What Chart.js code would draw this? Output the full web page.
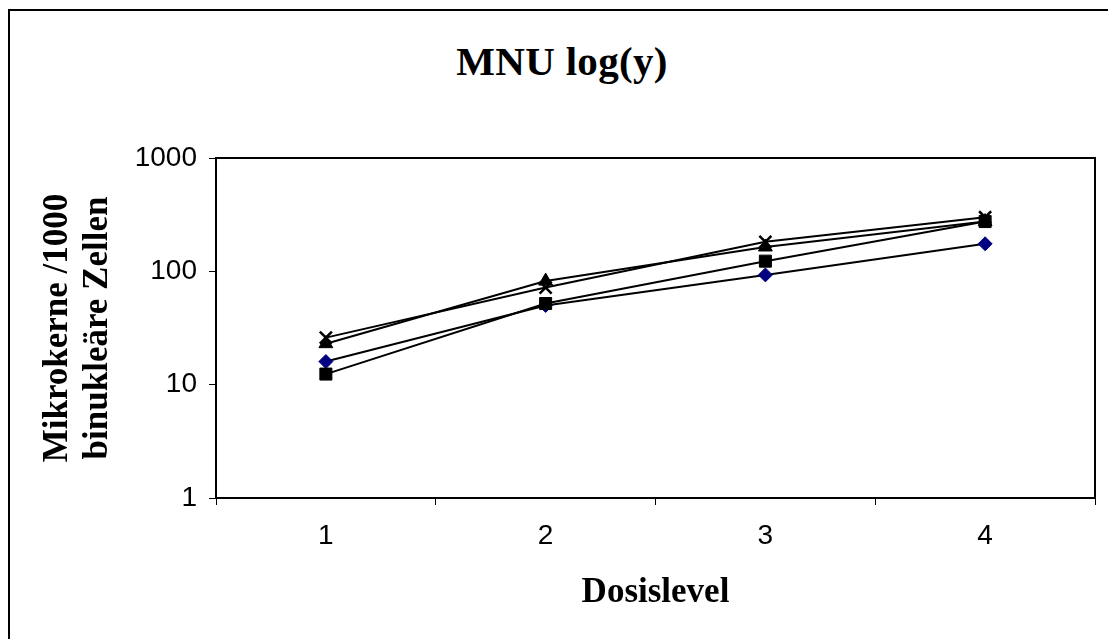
<!DOCTYPE html>
<html>
<head>
<meta charset="utf-8">
<script src="https://cdn.jsdelivr.net/npm/chart.js@4"></script>
<style>
  html, body { margin: 0; padding: 0; background: #fff; overflow: hidden; }
  #frame {
    position: absolute; left: 8px; top: 9px; width: 1200px; height: 700px;
    border-left: 2px solid #000; border-top: 2px solid #000;
  }
  #title {
    position: absolute; left: 0; width: 1124px; top: 37px; text-align: center;
    font: bold 41px "Liberation Serif", "Times New Roman", serif; color: #000;
    letter-spacing: 0.3px;
  }
  #mainChart { position: absolute; left: 0; top: 0; }
</style>
</head>
<body>
<div id="frame"></div>
<div id="title">MNU log(y)</div>
<canvas id="mainChart" width="1108" height="639"></canvas>
<script>
// Data
const doseLevels = ['1', '2', '3', '4'];
const yTicks = [1, 10, 100, 1000];
const seriesDiamond = [16, 50, 93, 175];
const seriesSquare = [12.4, 52, 123, 275];
const seriesTriangle = [23, 82, 164, 275];
const seriesCross = [26, 72, 182, 300];

// Frame round the plot area
const plotFrame = {
    id: 'plotFrame',
    beforeDatasetsDraw(chart) {
        const a = chart.chartArea;
        const ctx = chart.ctx;
        ctx.save();
        ctx.strokeStyle = '#000';
        ctx.lineWidth = 2;
        ctx.strokeRect(a.left, a.top, a.right - a.left, a.bottom - a.top);
        ctx.restore();
    }
};

function makeSet(label, data, style, radius, color, order) {
    return {
        label: label,
        data: data,
        borderColor: '#000',
        borderWidth: 2,
        tension: 0,
        fill: false,
        pointStyle: style,
        pointRadius: radius,
        pointHoverRadius: radius,
        pointBackgroundColor: color,
        pointBorderColor: color,
        pointBorderWidth: style === 'crossRot' ? 2.5 : 1,
        order: order
    };
}

const ctx = document.getElementById('mainChart').getContext('2d');
new Chart(ctx, {
    type: 'line',
    data: {
        labels: doseLevels,
        datasets: [
            makeSet('Reihe 1', seriesDiamond, 'rectRot', 7, '#000080', 4),
            makeSet('Reihe 2', seriesSquare, 'rect', 8.5, '#000', 3),
            makeSet('Reihe 3', seriesTriangle, 'triangle', 8, '#000', 2),
            makeSet('Reihe 4', seriesCross, 'crossRot', 8.5, '#000', 1)
        ]
    },
    options: {
        responsive: false,
        devicePixelRatio: 1,
        animation: false,
        layout: { padding: { left: 0, right: 13, top: 158, bottom: 0 } },
        plugins: {
            legend: { display: false },
            title: { display: false },
            tooltip: { enabled: false }
        },
        scales: {
            x: {
                offset: true,
                grid: { offset: true, drawOnChartArea: false, drawTicks: true, tickLength: 7, color: '#000', lineWidth: 1 },
                border: { display: false },
                ticks: { color: '#000', padding: 14, font: { family: 'Liberation Sans', size: 28 } },
                title: {
                    display: true,
                    text: 'Dosislevel',
                    color: '#000',
                    padding: { top: 0, bottom: 25 },
                    font: { family: 'Liberation Serif', size: 35, weight: 'bold' }
                },
                afterFit(scale) { scale.height = 141; }
            },
            y: {
                type: 'logarithmic',
                min: 1,
                max: 1000,
                grid: { drawOnChartArea: false, drawTicks: true, tickLength: 7, color: '#000', lineWidth: 1 },
                border: { display: false },
                afterBuildTicks(scale) { scale.ticks = yTicks.map(v => ({ value: v })); },
                ticks: {
                    color: '#000',
                    padding: 12,
                    font: { family: 'Liberation Sans', size: 28 },
                    callback: (v) => String(v)
                },
                title: {
                    display: true,
                    text: ['Mikrokerne /1000', 'binukleäre Zellen'],
                    color: '#000',
                    padding: { top: 38, bottom: 0 },
                    font: { family: 'Liberation Serif', size: 35, weight: 'bold', lineHeight: 1.15 }
                },
                afterFit(scale) { scale.width = 216; }
            }
        }
    },
    plugins: [plotFrame]
});
</script>
</body>
</html>
